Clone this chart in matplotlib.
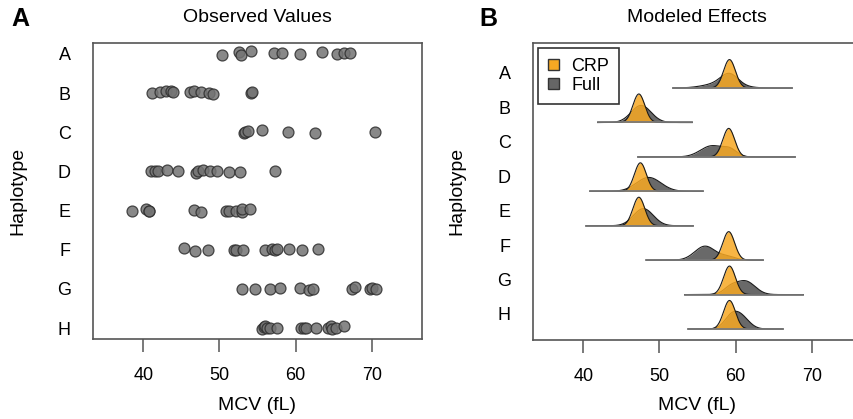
import numpy as np
import matplotlib
matplotlib.use("Agg")
import matplotlib.pyplot as plt
from matplotlib.patches import Patch

plt.rcParams['font.family'] = ['Liberation Sans', 'DejaVu Sans']

haplotypes = ["A", "B", "C", "D", "E", "F", "G", "H"]

# Observed MCV values per haplotype (panel A)
obs_A = [50.4, 52.6, 52.8, 54.1, 57.2, 58.2, 60.6, 63.5, 65.5, 66.4, 67.1]
obs_B = [41.2, 42.2, 43.0, 43.6, 43.9, 46.2, 46.6, 47.6, 48.6, 49.1, 54.1, 54.3]
obs_C = [53.2, 53.4, 53.7, 55.6, 59.0, 62.6, 70.4]
obs_D = [41.0, 41.5, 42.0, 43.1, 44.6, 46.9, 47.2, 47.8, 48.7, 49.7, 51.3, 52.7, 57.3]
obs_E = [38.5, 40.4, 40.7, 40.8, 46.7, 47.6, 50.8, 51.3, 52.2, 52.9, 53.0, 54.0]
obs_F = [45.4, 46.8, 48.5, 51.9, 52.2, 53.1, 56.0, 56.9, 57.3, 57.6, 59.2, 60.8, 62.9]
obs_G = [52.9, 54.7, 56.6, 57.9, 60.6, 61.8, 62.3, 67.4, 67.8, 69.8, 70.1, 70.5]
obs_H = [55.6, 55.8, 56.0, 56.3, 56.6, 57.6, 60.7, 61.1, 61.4, 62.7, 64.3, 64.6, 64.8, 65.3, 66.4]
observed = [obs_A, obs_B, obs_C, obs_D, obs_E, obs_F, obs_G, obs_H]

# small vertical jitter seen in panel A (in row units)
jit_A = [-0.03, 0.05, -0.02, 0.08, 0.02, 0.03, 0.0, 0.06, 0.0, 0.02, 0.02]
jit_B = [0.0, 0.04, 0.05, 0.06, 0.03, 0.03, 0.05, 0.03, 0.0, -0.02, 0.0, 0.03]
jit_C = [-0.02, 0.0, 0.02, 0.05, 0.0, -0.03, 0.0]
jit_D = [0.0, 0.0, 0.0, 0.03, 0.0, -0.04, 0.0, 0.03, 0.02, 0.0, -0.01, -0.01, 0.02]
jit_E = [-0.02, 0.05, 0.0, 0.0, 0.02, -0.04, 0.0, -0.01, 0.0, -0.03, 0.03, 0.05]
jit_F = [0.05, -0.03, 0.0, 0.0, -0.01, -0.01, 0.0, 0.02, 0.0, 0.01, 0.03, 0.0, 0.03]
jit_G = [0.0, 0.0, 0.0, 0.03, 0.03, -0.02, 0.0, -0.01, 0.04, 0.0, 0.01, -0.01]
jit_H = [-0.03, 0.02, 0.05, 0.0, 0.0, 0.0, 0.0, 0.0, 0.0, 0.0, 0.0, 0.06, -0.03, 0.0, 0.04]
jitter = [jit_A, jit_B, jit_C, jit_D, jit_E, jit_F, jit_G, jit_H]

# Modeled effects (panel B): CRP posterior (mean, sd)
crp_mean = [59.2, 47.3, 59.1, 47.5, 47.3, 59.1, 59.2, 59.2]
crp_sd = [0.78, 0.78, 0.78, 0.78, 0.78, 0.78, 0.78, 0.78]
# Full model posterior as two-component mixture
full_w1 = [0.5, 1.0, 0.75, 1.0, 1.0, 0.85, 0.25, 0.35]
full_m1 = [59.2, 47.6, 56.9, 48.6, 47.9, 56.0, 59.3, 59.3]
full_s1 = [1.1, 1.3, 1.5, 1.6, 1.3, 1.35, 0.9, 0.9]
full_m2 = [58.3, 47.6, 59.3, 48.6, 47.9, 59.0, 61.3, 60.6]
full_s2 = [2.2, 1.3, 0.9, 1.6, 1.3, 1.0, 1.25, 1.1]
# range of each density curve
range_lo = [51.8, 41.9, 47.2, 40.9, 40.4, 48.3, 53.3, 53.8]
range_hi = [67.4, 54.3, 67.8, 55.7, 54.4, 63.6, 68.9, 66.2]

xticks = [40, 50, 60, 70]

W, H = 854, 419
fig = plt.figure(figsize=(W / 100, H / 100), dpi=100)

def fx(px):
    return px / W

def fy(py):
    return 1 - py / H

ax1 = fig.add_axes([fx(93), fy(339), (422 - 93) / W, (339 - 43) / H])
ax2 = fig.add_axes([fx(533), fy(340), (422 - 93) / W, (340 - 43) / H])

spine_col = "#555555"
for ax in (ax1, ax2):
    for s in ax.spines.values():
        s.set_color(spine_col)
        s.set_linewidth(1.2)
    ax.set_xlim(33.4, 76.6)
    ax.set_xticks(xticks)
    ax.set_xticklabels([str(t) for t in xticks])
    ax.tick_params(axis='x', length=9, width=1.1, color=spine_col, pad=11, labelsize=13)
    ax.tick_params(axis='y', length=0, labelsize=13, pad=16)

# Panel A
n = len(haplotypes)
for i, (vals, jit) in enumerate(zip(observed, jitter)):
    ypos = n - i
    ax1.scatter(vals, [ypos + j for j in jit], s=62, c="#737373", alpha=0.85,
                edgecolors="#2e2e2e", linewidths=0.9, zorder=3)
ax1.set_ylim(0.72, 8.28)
ax1.set_yticks([n - i for i in range(n)])
ax1.set_yticklabels(haplotypes)

# Panel B
scale = 1.62
def npdf(x, m, s):
    return np.exp(-0.5 * ((x - m) / s) ** 2) / (s * np.sqrt(2 * np.pi))

orange = "#F7A823"
gray = "#595959"
for i in range(n):
    base = n - i
    xs = np.linspace(range_lo[i], range_hi[i], 600)
    full = full_w1[i] * npdf(xs, full_m1[i], full_s1[i]) + (1 - full_w1[i]) * npdf(xs, full_m2[i], full_s2[i])
    crp = npdf(xs, crp_mean[i], crp_sd[i])
    z = i * 0.01
    ax2.fill_between(xs, base, base + scale * full, color=gray, alpha=0.9, lw=0, zorder=3 + z)
    ax2.plot(xs, base + scale * full, color="#1a1a1a", lw=0.8, zorder=3.5 + z)
    ax2.fill_between(xs, base, base + scale * crp, color=orange, alpha=0.85, lw=0, zorder=4 + z)
    ax2.plot(xs, base + scale * crp, color="#1a1a1a", lw=0.8, zorder=4.5 + z)
    ax2.plot([range_lo[i], range_hi[i]], [base, base], color="#7a7a7a", lw=1.3, zorder=5 + z)

ax2.set_ylim(0.68, 9.31)
ax2.set_yticks([n - i + 0.44 for i in range(n)])
ax2.set_yticklabels(haplotypes)

leg = ax2.legend(handles=[Patch(facecolor=orange, edgecolor="#333333", label="CRP"),
                          Patch(facecolor="#666666", edgecolor="#333333", label="Full")],
                 loc="upper left", bbox_to_anchor=(0.015, 0.983), borderaxespad=0,
                 fontsize=13, handlelength=0.6, handleheight=0.6, handletextpad=0.7,
                 labelspacing=0.1, borderpad=0.55, fancybox=False, framealpha=1,
                 edgecolor="#333333")
leg.get_frame().set_linewidth(1.2)

# Titles and labels
fig.text(fx((93 + 422) / 2), fy(18), "Observed Values", ha="center", va="center", fontsize=14)
fig.text(fx(697), fy(18), "Modeled Effects", ha="center", va="center", fontsize=14)
fig.text(fx(20), fy(19), "A", ha="center", va="center", fontsize=18, fontweight="bold")
fig.text(fx(488), fy(19), "B", ha="center", va="center", fontsize=18, fontweight="bold")
fig.text(fx(18), fy(191), "Haplotype", ha="center", va="center", rotation=90, fontsize=14)
fig.text(fx(457), fy(191), "Haplotype", ha="center", va="center", rotation=90, fontsize=14)
fig.text(fx((93 + 422) / 2), fy(405), "MCV (fL)", ha="center", va="center", fontsize=14)
fig.text(fx(697), fy(405), "MCV (fL)", ha="center", va="center", fontsize=14)

fig.savefig("out.png", dpi=100)
